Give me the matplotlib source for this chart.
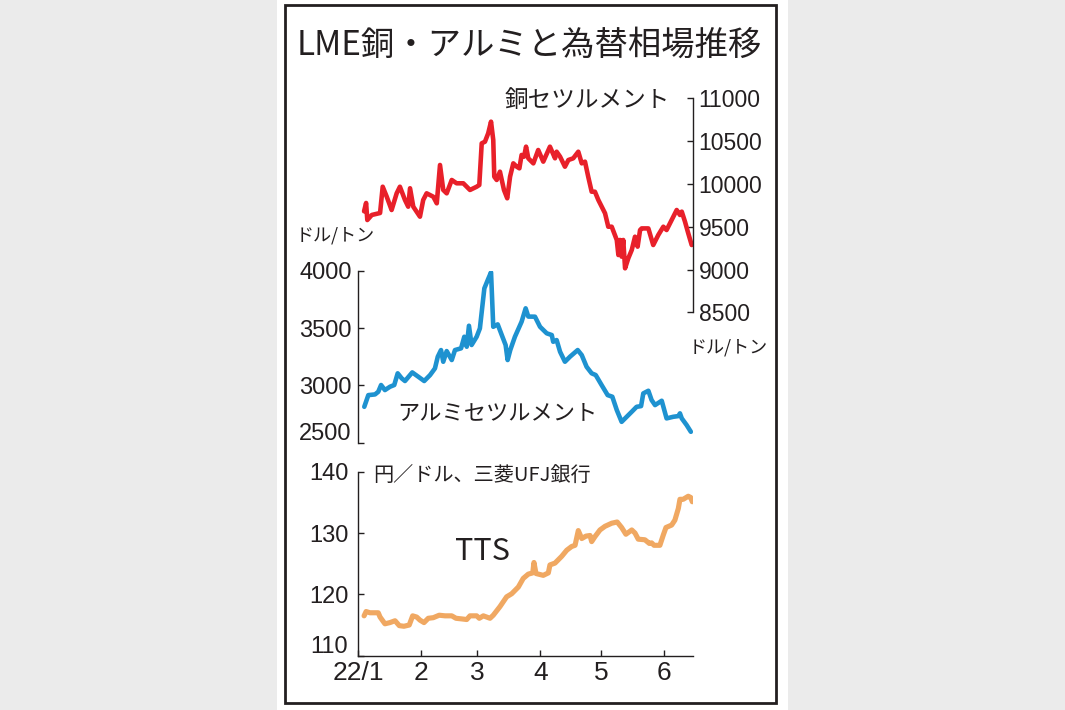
"""LME copper / aluminium settlement prices and USD/JPY TTS, Jan-Jun 2022."""

import matplotlib

matplotlib.use("Agg")
import matplotlib.pyplot as plt
from matplotlib.patches import Rectangle

plt.rcParams["font.family"] = ["Noto Sans CJK JP", "DejaVu Sans"]

# days counted from 2022-01-01
COPPER_DAY = [3.0, 4.0, 4.6, 6.8, 10.9, 12.2, 14.2, 16.6, 19.1, 20.7, 23.2, 24.8, 25.7, 27.3,
              30.6, 32.2, 33.9, 37.2, 38.9, 40.5, 42.1, 43.8, 46.3, 48.7, 52.0, 53.7, 55.3, 58.6,
              59.9, 61.1, 62.7, 64.3, 65.7, 66.8, 67.3, 68.5, 70.1, 71.0, 72.1, 73.7, 75.1, 76.7,
              78.4, 79.7, 80.8, 82.0, 83.0, 84.1, 86.6, 89.0, 91.5, 94.8, 97.3, 98.1, 99.8, 102.2,
              103.9, 106.3, 108.8, 110.5, 112.1, 113.7, 115.4, 117.0, 118.7, 122.0, 123.6, 125.3,
              127.8, 128.6, 129.4, 130.2, 131.0, 131.9, 133.5, 135.2, 136.8, 138.1, 139.3, 140.1,
              143.4, 145.8, 148.3, 150.8, 152.4, 154.9, 157.4, 159.0, 159.9, 161.5, 163.1, 164.8]
COPPER_USD = [9680, 9777, 9578, 9637, 9660, 9967, 9850, 9695, 9890, 9967, 9812, 9734, 9949, 9734,
              9617, 9812, 9890, 9850, 9773, 10221, 9929, 9890, 10046, 10007, 10007, 9967, 9929, 9967,
              9987, 10474, 10493, 10591, 10727, 10513, 10084, 10046, 10143, 10046, 9929, 9832, 10084,
              10240, 10201, 10182, 10338, 10318, 10435, 10299, 10240, 10396, 10260, 10435, 10299,
              10376, 10318, 10201, 10279, 10299, 10376, 10240, 10260, 10084, 9909, 9909, 9812, 9657,
              9500, 9500, 9345, 9169, 9345, 9150, 9345, 9014, 9131, 9228, 9383, 9267, 9461, 9480,
              9480, 9286, 9403, 9500, 9461, 9578, 9695, 9637, 9676, 9558, 9423, 9286]

ALU_DAY = [3.1, 5.1, 8.4, 10.0, 11.4, 13.3, 15.8, 17.9, 19.6, 21.6, 23.2, 26.8, 29.8, 32.7, 35.6,
           38.0, 39.4, 41.0, 42.1, 43.8, 46.3, 47.9, 50.9, 52.5, 53.7, 54.8, 56.1, 58.6, 60.2, 62.4,
           64.3, 65.7, 66.8, 69.0, 71.0, 72.9, 73.9, 75.2, 77.5, 80.8, 82.8, 84.1, 87.4, 89.9, 93.2,
           95.7, 96.4, 98.1, 99.8, 102.2, 104.7, 108.5, 110.5, 112.9, 115.4, 117.4, 120.3, 123.3,
           125.6, 127.8, 130.2, 132.7, 135.2, 137.6, 139.8, 140.9, 143.4, 145.0, 146.7, 150.0,
           152.4, 155.7, 158.2, 159.0, 159.9, 162.3, 164.4]
ALU_USD = [2813, 2915, 2921, 2944, 3003, 2959, 2988, 3003, 3105, 3061, 3038, 3113, 3075, 3038, 3090,
           3148, 3250, 3308, 3206, 3299, 3221, 3308, 3323, 3424, 3337, 3520, 3352, 3424, 3497, 3846,
           3928, 3986, 3511, 3532, 3439, 3352, 3221, 3308, 3424, 3555, 3672, 3600, 3599, 3511, 3454,
           3439, 3380, 3395, 3293, 3206, 3250, 3308, 3264, 3162, 3105, 3090, 3003, 2915, 2901, 2785,
           2682, 2726, 2770, 2813, 2819, 2930, 2953, 2872, 2828, 2866, 2712, 2726, 2732, 2756, 2712,
           2654, 2595]

TTS_DAY = [3.0, 4.0, 5.9, 10.0, 10.9, 13.3, 15.8, 18.3, 20.4, 22.7, 25.3, 27.0, 29.0, 30.6, 32.6,
           34.7, 37.2, 40.1, 43.0, 46.3, 48.4, 51.2, 53.7, 55.3, 58.6, 59.9, 61.9, 65.2, 66.8, 70.1,
           73.4, 75.9, 79.2, 81.6, 84.1, 86.3, 86.9, 87.9, 91.5, 94.0, 94.8, 97.3, 100.6, 103.1,
           105.5, 107.2, 108.8, 110.5, 112.6, 114.6, 115.4, 117.0, 119.5, 122.0, 125.3, 128.0,
           130.2, 132.3, 135.2, 136.8, 138.4, 141.7, 143.9, 145.0, 146.2, 149.1, 150.8, 152.1,
           154.9, 156.5, 158.2, 159.0, 160.6, 163.1, 164.3, 165.1]
TTS_YEN = [116.5, 117.2, 117.0, 117.0, 116.3, 115.2, 115.4, 115.7, 114.9, 114.8, 115.0, 116.5, 116.3,
           115.8, 115.4, 116.1, 116.2, 116.6, 116.5, 116.5, 116.1, 116.0, 115.9, 116.5, 116.5, 116.1,
           116.5, 116.1, 116.6, 118.0, 119.6, 120.1, 121.2, 122.6, 123.3, 123.5, 125.2, 123.4, 123.1,
           123.5, 124.8, 125.1, 126.2, 127.2, 127.8, 128.0, 130.4, 129.1, 129.5, 129.6, 128.6, 129.4,
           130.5, 131.1, 131.6, 131.8, 130.9, 129.8, 130.5, 130.0, 129.0, 128.9, 128.3, 128.4, 128.0,
           128.0, 129.7, 130.9, 131.3, 132.1, 134.0, 135.5, 135.5, 136.0, 135.8, 135.1]

MONTH_START = [0, 31, 59, 90, 120, 151]
MONTH_LABELS = ["22/1", "2", "3", "4", "5", "6"]
COPPER_TICKS = [8500, 9000, 9500, 10000, 10500, 11000]
ALU_TICKS = [2500, 3000, 3500, 4000]
TTS_TICKS = [110, 120, 130, 140]

RED = "#e8202a"
BLUE = "#1e92d0"
ORANGE = "#f0a862"
INK = "#231f20"
TICK_FONT = "Liberation Sans"
X_RANGE = (0, 165.2)

W, H = 1065, 710


def fx(px):
    return px / W


def fy(py):
    return 1 - py / H


def panel(fig, top, bottom, side, size):
    """Transparent axes spanning pixel rows top..bottom with one y spine."""
    ax = fig.add_axes([fx(358), fy(bottom), fx(692.5) - fx(358), fy(top) - fy(bottom)])
    ax.set_facecolor("none")
    for spine in ax.spines.values():
        spine.set_visible(False)
    ax.spines[side].set_visible(True)
    ax.spines[side].set_color(INK)
    ax.spines[side].set_linewidth(1.0)
    ax.set_xlim(*X_RANGE)
    ax.set_xticks([])
    if side == "right":
        ax.yaxis.tick_right()
    ax.tick_params(axis="y", direction="in", length=4, width=1.0, color=INK,
                   labelcolor=INK, labelsize=size, labelfontfamily=TICK_FONT, pad=4.5)
    return ax


def low_label(ax, value, text, dx, size):
    ax.annotate(text, xy=(0, value), xycoords=("axes fraction", "data"),
                xytext=(dx, 6.5), textcoords="offset points", ha="right", va="center",
                fontsize=size, family=TICK_FONT, color=INK)


fig = plt.figure(figsize=(W / 100, H / 100), dpi=100, facecolor="#ebebeb")
fig.patches.append(Rectangle((fx(277), 0), fx(788) - fx(277), 1, transform=fig.transFigure,
                             facecolor="white", edgecolor="none", zorder=-2))
fig.patches.append(Rectangle((fx(284.5), fy(703)), fx(776) - fx(284.5), fy(4.5) - fy(703),
                             transform=fig.transFigure, fill=False, edgecolor=INK,
                             linewidth=2.0, zorder=-1))

# copper, right axis
ax_cu = panel(fig, 98.3, 312.3, "right", 16.5)
ax_cu.set_ylim(8500, 11000)
ax_cu.set_yticks(COPPER_TICKS)
ax_cu.plot(COPPER_DAY, COPPER_USD, color=RED, lw=3.3, solid_joinstyle="round",
           solid_capstyle="round")

# aluminium, left axis
ax_al = panel(fig, 270.7, 442.7, "left", 17)
ax_al.set_ylim(2500, 4000)
ax_al.set_yticks(ALU_TICKS, [""] + [str(v) for v in ALU_TICKS[1:]])
low_label(ax_al, ALU_TICKS[0], str(ALU_TICKS[0]), -4.5, 17)
ax_al.plot(ALU_DAY, ALU_USD, color=BLUE, lw=3.3, solid_joinstyle="round",
           solid_capstyle="round")

# yen, left + bottom axes
ax_fx = panel(fig, 471.7, 655.7, "left", 17)
ax_fx.spines["bottom"].set_visible(True)
ax_fx.spines["bottom"].set_color(INK)
ax_fx.spines["bottom"].set_linewidth(1.0)
ax_fx.set_ylim(110, 140)
ax_fx.set_yticks(TTS_TICKS, [""] + [str(v) for v in TTS_TICKS[1:]])
ax_fx.tick_params(axis="y", pad=7)
low_label(ax_fx, TTS_TICKS[0], str(TTS_TICKS[0]), -7, 17)
ax_fx.set_xticks(MONTH_START, MONTH_LABELS)
ax_fx.tick_params(axis="x", direction="in", length=4, width=1.0, color=INK,
                  labelcolor=INK, labelsize=19, labelfontfamily=TICK_FONT, pad=4)
ax_fx.plot(TTS_DAY, TTS_YEN, color=ORANGE, lw=3.7, solid_joinstyle="round",
           solid_capstyle="round")

# titles and annotations
fig.text(fx(529.5), fy(45), "LME銅・アルミと為替相場推移", ha="center", va="center",
         fontsize=24, color=INK)
fig.text(fx(670), fy(100), "銅セツルメント", ha="right", va="center", fontsize=17, color=INK)
fig.text(fx(296), fy(235), "ドル/トン", ha="left", va="center", fontsize=13, color=INK)
fig.text(fx(689), fy(348), "ドル/トン", ha="left", va="center", fontsize=13, color=INK)
fig.text(fx(397), fy(412.7), "アルミセツルメント", ha="left", va="center", fontsize=16,
         color=INK)
fig.text(fx(373), fy(475), "円／ドル、三菱UFJ銀行", ha="left", va="center", fontsize=14.5,
         color=INK)
fig.text(fx(455), fy(551.7), "TTS", ha="left", va="center", fontsize=22, color=INK)

fig.savefig("out.png", dpi=100, facecolor=fig.get_facecolor())
